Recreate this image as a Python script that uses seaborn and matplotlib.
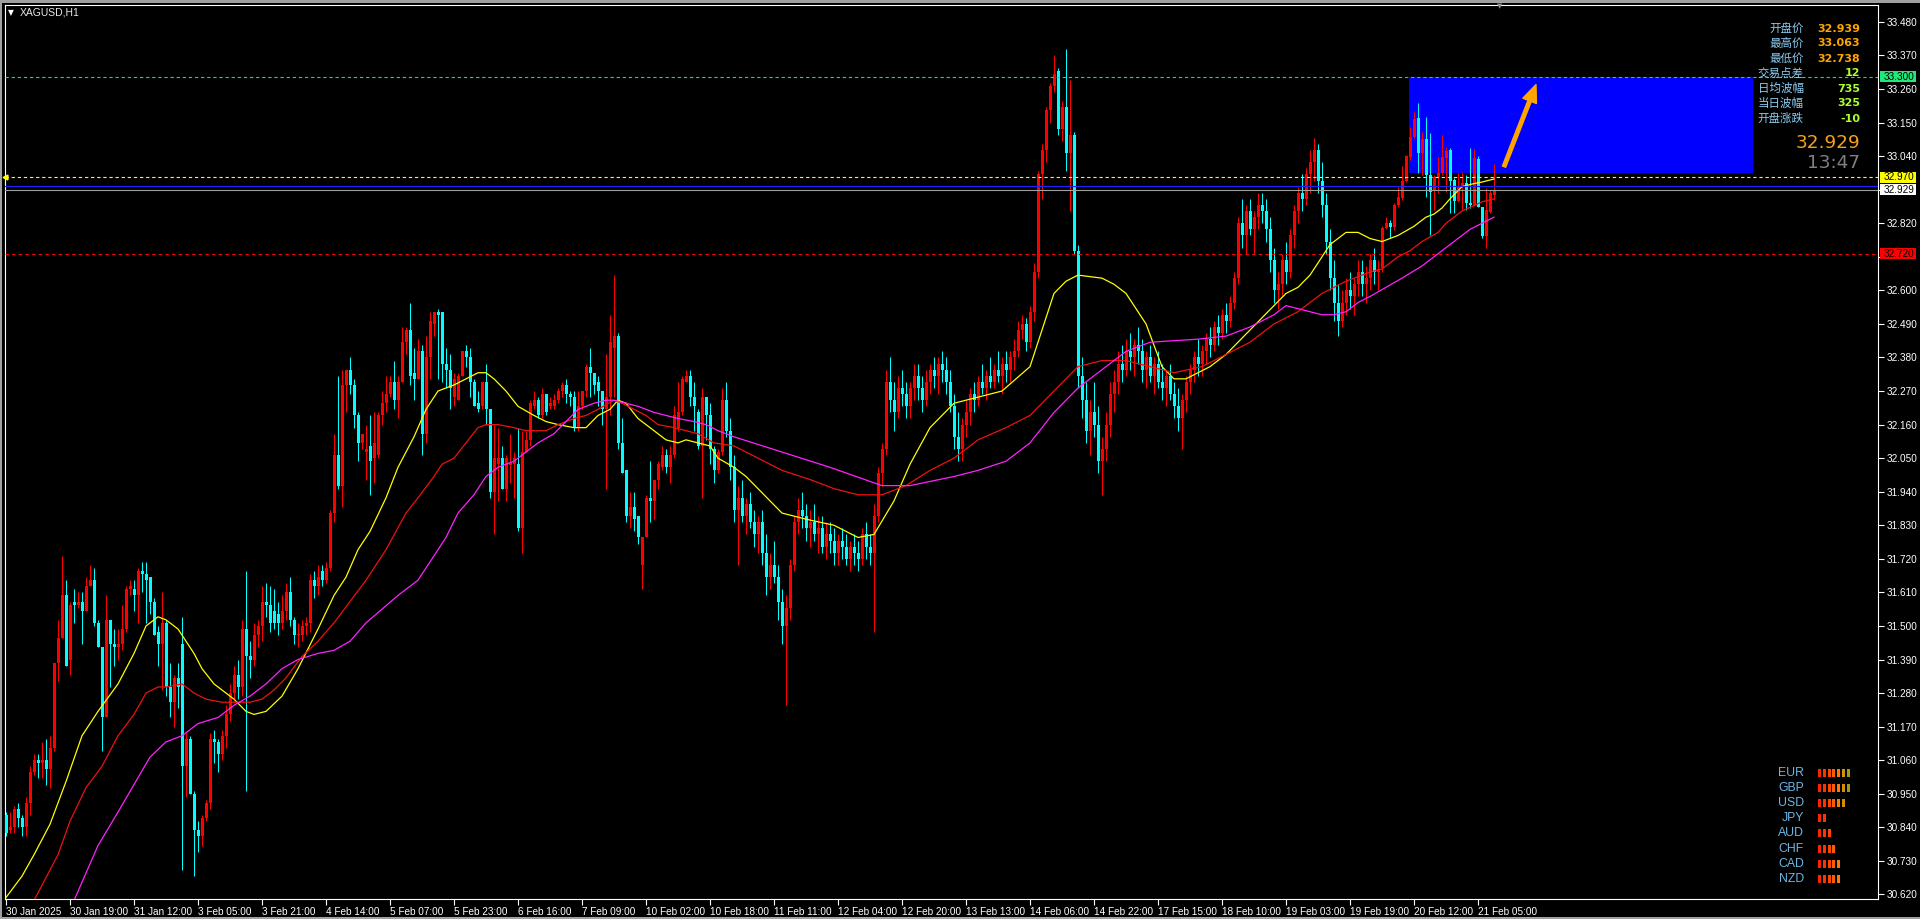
import numpy as np
import matplotlib
matplotlib.use("Agg")
import matplotlib.pyplot as plt
from matplotlib.patches import Rectangle, FancyArrowPatch
import seaborn as sns

# XAGUSD H1 candles, one entry per bar (30 Jan 2025 03:00 .. 21 Feb 2025 09:00)
opens = [
    30.88, 30.83, 30.84, 30.90, 30.87, 30.84, 30.92, 31.02, 31.06, 31.05,
    31.06, 31.03, 31.10, 31.38, 31.46, 31.60, 31.39, 31.58, 31.57, 31.58,
    31.55, 31.63, 31.65, 31.51, 31.43, 31.20, 31.52, 31.44, 31.43, 31.44,
    31.49, 31.62, 31.62, 31.60, 31.68, 31.67, 31.66, 31.58, 31.48, 31.44,
    31.51, 31.30, 31.25, 31.33, 31.44, 31.04, 31.13, 30.95, 30.83, 30.81,
    30.87, 30.92, 31.13, 31.12, 31.08, 31.14, 31.21, 31.28, 31.34, 31.30,
    31.49, 31.40, 31.39, 31.47, 31.50, 31.58, 31.57, 31.55, 31.54, 31.51,
    31.55, 31.61, 31.52, 31.47, 31.47, 31.50, 31.51, 31.65, 31.63, 31.68,
    31.65, 31.69, 31.87, 32.06, 31.96, 32.29, 32.34, 32.29, 32.19, 32.10,
    32.07, 32.09, 32.05, 32.06, 32.19, 32.23, 32.26, 32.30, 32.24, 32.30,
    32.43, 32.47, 32.33, 32.31, 32.40, 32.13, 32.38, 32.49, 32.53, 32.53,
    32.36, 32.34, 32.25, 32.24, 32.32, 32.40, 32.38, 32.30, 32.23, 32.22,
    32.30, 32.21, 31.94, 32.03, 32.05, 31.95, 32.027, 32.03, 32.03, 31.82,
    32.07, 32.11, 32.22, 32.24, 32.19, 32.26, 32.22, 32.22, 32.24, 32.27,
    32.29, 32.26, 32.25, 32.15, 32.22, 32.27, 32.35, 32.33, 32.30, 32.27,
    32.21, 32.25, 32.41, 32.45, 32.10, 32.01, 31.86, 31.89, 31.86, 31.70,
    31.79, 31.92, 31.91, 31.98, 32.02, 32.06, 32.02, 32.06, 32.15, 32.20,
    32.30, 32.32, 32.25, 32.20, 32.09, 32.25, 32.19, 32.08, 32.01, 32.07,
    32.24, 32.14, 32.02, 31.88, 31.92, 31.86, 31.90, 31.84, 31.80, 31.84,
    31.74, 31.66, 31.70, 31.66, 31.58, 31.50, 31.56, 31.70, 31.84, 31.88,
    31.86, 31.82, 31.84, 31.80, 31.82, 31.76, 31.80, 31.78, 31.74, 31.78,
    31.76, 31.72, 31.76, 31.74, 31.72, 31.80, 31.76, 31.74, 31.86, 32.00,
    32.08, 32.30, 32.24, 32.20, 32.28, 32.26, 32.22, 32.28, 32.32, 32.28,
    32.24, 32.30, 32.34, 32.32, 32.36, 32.34, 32.30, 32.22, 32.12, 32.08,
    32.16, 32.20, 32.26, 32.24, 32.30, 32.28, 32.32, 32.30, 32.34, 32.32,
    32.36, 32.34, 32.38, 32.40, 32.47, 32.49, 32.43, 32.53, 32.66, 32.98,
    33.06, 33.19, 33.27, 33.32, 33.13, 33.20, 33.05, 33.11, 32.73, 32.32,
    32.24, 32.14, 32.20, 32.16, 32.04, 32.08, 32.16, 32.26, 32.30, 32.36,
    32.34, 32.40, 32.38, 32.42, 32.40, 32.34, 32.38, 32.32, 32.36, 32.30,
    32.28, 32.32, 32.26, 32.22, 32.18, 32.24, 32.30, 32.34, 32.38, 32.36,
    32.40, 32.44, 32.42, 32.48, 32.46, 32.52, 32.50, 32.56, 32.64, 32.82,
    32.78, 32.86, 32.80, 32.84, 32.88, 32.86, 32.80, 32.70, 32.60, 32.62,
    32.70, 32.66, 32.78, 32.86, 32.92, 32.90, 32.98, 33.02, 33.06, 32.96,
    32.88, 32.76, 32.64, 32.56, 32.50, 32.56, 32.60, 32.58, 32.62, 32.66,
    32.62, 32.64, 32.70, 32.66, 32.672, 32.803, 32.822, 32.809, 32.880, 32.902,
    32.959, 33.038, 33.102, 33.164, 33.049, 33.096, 32.978, 32.927, 32.970, 32.984,
    33.033, 33.060, 32.962, 32.894, 32.938, 32.953, 32.887, 32.880, 33.031, 32.874,
    32.778, 32.858, 32.913,
]
highs = [
    30.89, 30.89, 30.91, 30.92, 30.88, 30.94, 31.04, 31.08, 31.08, 31.12,
    31.13, 31.14, 31.38, 31.52, 31.73, 31.65, 31.58, 31.62, 31.61, 31.61,
    31.66, 31.70, 31.69, 31.52, 31.43, 31.60, 31.52, 31.49, 31.49, 31.57,
    31.63, 31.65, 31.65, 31.69, 31.71, 31.71, 31.66, 31.59, 31.50, 31.61,
    31.52, 31.38, 31.34, 31.38, 31.53, 31.15, 31.14, 30.96, 30.86, 30.88,
    30.93, 31.15, 31.16, 31.13, 31.16, 31.24, 31.31, 31.37, 31.39, 31.52,
    31.68, 31.45, 31.51, 31.52, 31.63, 31.64, 31.63, 31.62, 31.58, 31.60,
    31.64, 31.66, 31.53, 31.51, 31.52, 31.53, 31.67, 31.68, 31.70, 31.70,
    31.71, 31.88, 32.13, 32.32, 32.34, 32.34, 32.38, 32.31, 32.20, 32.13,
    32.16, 32.19, 32.20, 32.20, 32.27, 32.32, 32.32, 32.37, 32.32, 32.48,
    32.48, 32.56, 32.41, 32.44, 32.42, 32.45, 32.53, 32.53, 32.54, 32.53,
    32.41, 32.39, 32.33, 32.33, 32.40, 32.42, 32.41, 32.31, 32.27, 32.30,
    32.36, 32.21, 32.16, 32.15, 32.09, 32.06, 32.13, 32.07, 32.15, 32.14,
    32.14, 32.24, 32.27, 32.25, 32.28, 32.26, 32.25, 32.26, 32.28, 32.30,
    32.31, 32.27, 32.27, 32.27, 32.27, 32.36, 32.41, 32.33, 32.32, 32.27,
    32.39, 32.52, 32.65, 32.46, 32.18, 32.01, 31.94, 31.94, 31.86, 31.79,
    31.93, 32.04, 31.98, 32.04, 32.09, 32.08, 32.09, 32.22, 32.30, 32.32,
    32.34, 32.34, 32.30, 32.21, 32.28, 32.25, 32.23, 32.09, 32.08, 32.28,
    32.30, 32.18, 32.06, 31.96, 31.98, 31.92, 31.94, 31.88, 31.86, 31.88,
    31.80, 31.74, 31.78, 31.70, 31.62, 31.60, 31.72, 31.86, 31.92, 31.94,
    31.90, 31.88, 31.90, 31.86, 31.86, 31.84, 31.84, 31.82, 31.80, 31.82,
    31.80, 31.78, 31.80, 31.78, 31.82, 31.84, 31.80, 31.90, 32.02, 32.10,
    32.34, 32.38, 32.30, 32.32, 32.34, 32.30, 32.30, 32.36, 32.36, 32.32,
    32.34, 32.36, 32.38, 32.38, 32.40, 32.38, 32.34, 32.26, 32.20, 32.18,
    32.24, 32.28, 32.30, 32.32, 32.36, 32.34, 32.38, 32.36, 32.40, 32.38,
    32.40, 32.40, 32.44, 32.50, 32.52, 32.51, 32.55, 32.69, 32.99, 33.08,
    33.20, 33.28, 33.37, 33.33, 33.22, 33.39, 33.29, 33.12, 32.75, 32.38,
    32.30, 32.24, 32.30, 32.22, 32.12, 32.20, 32.30, 32.34, 32.40, 32.42,
    32.44, 32.46, 32.44, 32.48, 32.44, 32.40, 32.42, 32.38, 32.40, 32.36,
    32.34, 32.36, 32.30, 32.28, 32.26, 32.32, 32.36, 32.40, 32.44, 32.42,
    32.46, 32.48, 32.50, 32.52, 32.54, 32.56, 32.58, 32.66, 32.84, 32.90,
    32.88, 32.90, 32.86, 32.92, 32.92, 32.90, 32.84, 32.74, 32.66, 32.72,
    32.76, 32.80, 32.88, 32.94, 32.98, 33.00, 33.06, 33.10, 33.08, 33.02,
    32.92, 32.80, 32.70, 32.62, 32.60, 32.64, 32.66, 32.64, 32.70, 32.70,
    32.68, 32.72, 32.74, 32.70, 32.81, 32.84, 32.83, 32.885, 32.94, 33.008,
    33.045, 33.136, 33.186, 33.213, 33.12, 33.169, 33.115, 32.978, 33.038, 33.109,
    33.071, 33.065, 32.967, 32.984, 32.989, 32.978, 33.065, 33.063, 33.040, 32.874,
    32.934, 32.929, 33.014,
]
lows = [
    30.81, 30.82, 30.82, 30.84, 30.81, 30.81, 30.88, 31.01, 31.00, 31.00,
    30.98, 30.97, 31.09, 31.32, 31.46, 31.37, 31.34, 31.51, 31.56, 31.44,
    31.55, 31.63, 31.50, 31.43, 31.09, 31.20, 31.30, 31.37, 31.39, 31.42,
    31.48, 31.60, 31.55, 31.51, 31.61, 31.51, 31.54, 31.47, 31.37, 31.29,
    31.27, 31.20, 31.17, 31.23, 30.70, 30.94, 30.95, 30.68, 30.76, 30.78,
    30.86, 30.90, 31.05, 31.02, 31.06, 31.10, 31.19, 31.26, 31.26, 31.27,
    30.96, 31.33, 31.37, 31.43, 31.45, 31.53, 31.48, 31.49, 31.47, 31.49,
    31.52, 31.50, 31.44, 31.43, 31.45, 31.47, 31.48, 31.59, 31.60, 31.63,
    31.64, 31.68, 31.84, 31.95, 31.89, 32.20, 32.26, 32.15, 32.04, 32.08,
    31.98, 31.93, 31.97, 32.05, 32.16, 32.20, 32.25, 32.21, 32.18, 32.30,
    32.39, 32.29, 32.24, 32.31, 32.06, 32.10, 32.31, 32.45, 32.31, 32.30,
    32.28, 32.21, 32.22, 32.24, 32.32, 32.35, 32.25, 32.22, 32.20, 32.21,
    32.16, 31.92, 31.80, 31.91, 31.95, 31.91, 31.97, 31.92, 31.81, 31.74,
    32.07, 32.09, 32.21, 32.18, 32.18, 32.19, 32.21, 32.21, 32.23, 32.25,
    32.23, 32.22, 32.14, 32.14, 32.21, 32.25, 32.25, 32.26, 32.22, 32.16,
    31.95, 32.19, 32.25, 32.08, 32.00, 31.84, 31.82, 31.81, 31.77, 31.62,
    31.79, 31.84, 31.85, 31.95, 32.01, 32.00, 31.97, 32.05, 32.14, 32.19,
    32.30, 32.22, 32.14, 32.08, 31.92, 32.11, 32.03, 31.97, 32.00, 32.06,
    32.12, 31.98, 31.84, 31.70, 31.84, 31.80, 31.82, 31.76, 31.74, 31.70,
    31.60, 31.62, 31.64, 31.52, 31.44, 31.24, 31.52, 31.68, 31.80, 31.82,
    31.78, 31.76, 31.78, 31.74, 31.74, 31.72, 31.74, 31.70, 31.70, 31.72,
    31.70, 31.68, 31.70, 31.68, 31.70, 31.72, 31.70, 31.48, 31.84, 31.96,
    32.06, 32.20, 32.14, 32.18, 32.22, 32.18, 32.18, 32.24, 32.24, 32.20,
    32.22, 32.26, 32.28, 32.26, 32.30, 32.26, 32.20, 32.08, 32.04, 32.04,
    32.12, 32.16, 32.20, 32.22, 32.26, 32.24, 32.28, 32.28, 32.30, 32.26,
    32.30, 32.30, 32.34, 32.38, 32.44, 32.40, 32.41, 32.50, 32.64, 32.90,
    33.02, 33.15, 33.25, 33.11, 33.09, 32.99, 32.86, 32.72, 32.28, 32.18,
    32.10, 32.06, 32.12, 32.00, 31.93, 32.04, 32.12, 32.20, 32.26, 32.30,
    32.32, 32.34, 32.32, 32.36, 32.30, 32.28, 32.30, 32.26, 32.28, 32.24,
    32.22, 32.24, 32.18, 32.14, 32.08, 32.20, 32.26, 32.30, 32.32, 32.32,
    32.36, 32.38, 32.40, 32.42, 32.44, 32.46, 32.48, 32.54, 32.62, 32.74,
    32.72, 32.78, 32.72, 32.80, 32.82, 32.76, 32.66, 32.56, 32.54, 32.58,
    32.62, 32.64, 32.74, 32.82, 32.86, 32.88, 32.92, 32.96, 32.92, 32.84,
    32.72, 32.60, 32.50, 32.45, 32.48, 32.52, 32.54, 32.52, 32.58, 32.58,
    32.56, 32.60, 32.62, 32.60, 32.66, 32.80, 32.77, 32.798, 32.874, 32.896,
    32.955, 33.027, 33.098, 32.984, 32.978, 32.907, 32.781, 32.863, 32.918, 32.978,
    32.923, 32.852, 32.852, 32.891, 32.863, 32.863, 32.869, 32.875, 32.874, 32.770,
    32.738, 32.852, 32.896,
]
closes = [
    30.82, 30.84, 30.90, 30.87, 30.84, 30.92, 31.02, 31.06, 31.05, 31.06,
    31.03, 31.10, 31.38, 31.46, 31.60, 31.37, 31.57, 31.57, 31.58, 31.55,
    31.63, 31.65, 31.51, 31.43, 31.20, 31.52, 31.44, 31.43, 31.44, 31.49,
    31.62, 31.63, 31.60, 31.68, 31.67, 31.65, 31.58, 31.47, 31.44, 31.51,
    31.30, 31.25, 31.33, 31.30, 31.04, 31.13, 30.95, 30.83, 30.81, 30.87,
    30.92, 31.13, 31.12, 31.08, 31.14, 31.21, 31.28, 31.34, 31.30, 31.49,
    31.40, 31.39, 31.47, 31.50, 31.58, 31.57, 31.51, 31.51, 31.51, 31.55,
    31.61, 31.52, 31.47, 31.47, 31.50, 31.51, 31.65, 31.63, 31.66, 31.65,
    31.69, 31.87, 32.06, 31.96, 32.29, 32.34, 32.29, 32.19, 32.10, 32.13,
    32.08, 32.04, 32.10, 32.19, 32.23, 32.26, 32.30, 32.24, 32.30, 32.43,
    32.47, 32.32, 32.31, 32.40, 32.13, 32.38, 32.50, 32.53, 32.52, 32.36,
    32.34, 32.28, 32.31, 32.32, 32.40, 32.38, 32.30, 32.22, 32.21, 32.30,
    32.21, 31.94, 32.05, 32.05, 31.95, 32.05, 32.033, 32.05, 31.82, 32.07,
    32.11, 32.23, 32.24, 32.19, 32.26, 32.20, 32.23, 32.24, 32.27, 32.29,
    32.26, 32.25, 32.15, 32.22, 32.27, 32.35, 32.33, 32.29, 32.27, 32.21,
    32.25, 32.43, 32.45, 32.10, 32.00, 31.86, 31.89, 31.85, 31.79, 31.79,
    31.92, 31.91, 31.98, 32.03, 32.06, 32.02, 32.06, 32.19, 32.20, 32.31,
    32.32, 32.25, 32.22, 32.09, 32.25, 32.19, 32.08, 32.01, 32.07, 32.24,
    32.14, 32.02, 31.88, 31.92, 31.86, 31.90, 31.84, 31.80, 31.84, 31.74,
    31.66, 31.70, 31.66, 31.58, 31.50, 31.56, 31.70, 31.84, 31.88, 31.86,
    31.82, 31.84, 31.80, 31.82, 31.76, 31.80, 31.78, 31.74, 31.78, 31.76,
    31.72, 31.76, 31.74, 31.72, 31.80, 31.76, 31.74, 31.86, 32.00, 32.08,
    32.30, 32.24, 32.20, 32.28, 32.26, 32.22, 32.28, 32.32, 32.28, 32.24,
    32.30, 32.34, 32.32, 32.36, 32.34, 32.30, 32.22, 32.12, 32.08, 32.16,
    32.20, 32.26, 32.24, 32.30, 32.28, 32.32, 32.30, 32.34, 32.32, 32.36,
    32.34, 32.38, 32.40, 32.47, 32.49, 32.43, 32.53, 32.66, 32.98, 33.06,
    33.19, 33.27, 33.31, 33.13, 33.20, 33.05, 33.11, 32.73, 32.32, 32.24,
    32.14, 32.20, 32.16, 32.04, 32.08, 32.16, 32.26, 32.30, 32.36, 32.34,
    32.40, 32.38, 32.42, 32.40, 32.34, 32.38, 32.32, 32.36, 32.30, 32.28,
    32.32, 32.26, 32.22, 32.18, 32.24, 32.30, 32.34, 32.38, 32.36, 32.40,
    32.44, 32.42, 32.48, 32.46, 32.52, 32.50, 32.56, 32.64, 32.82, 32.78,
    32.86, 32.80, 32.84, 32.88, 32.86, 32.80, 32.70, 32.60, 32.62, 32.70,
    32.66, 32.78, 32.86, 32.92, 32.90, 32.98, 33.02, 33.06, 32.96, 32.88,
    32.76, 32.64, 32.56, 32.50, 32.56, 32.60, 32.58, 32.62, 32.66, 32.62,
    32.64, 32.70, 32.66, 32.67, 32.803, 32.822, 32.809, 32.880, 32.907, 32.959,
    33.040, 33.102, 33.161, 33.049, 33.096, 32.978, 32.923, 32.973, 32.984, 33.038,
    33.058, 32.959, 32.894, 32.938, 32.953, 32.887, 32.880, 33.035, 32.874, 32.778,
    32.863, 32.920, 32.929,
]

# moving averages (bar index, price)
fast_ma_bars = [0, 4, 7, 11, 15, 19, 23, 28, 32, 35, 38, 40, 43, 47, 49, 52, 57, 60, 62, 65,
                69, 73, 78, 82, 85, 88, 91, 95, 98, 102, 105, 108, 112, 115, 118, 120, 122, 125, 128, 132,
                135, 138, 142, 145, 148, 151, 153, 155, 158, 162, 165, 168, 170, 173, 176, 178, 182, 185, 188, 194,
                200, 207, 213, 217, 222, 226, 231, 237, 243, 249, 256, 259, 262, 265, 268, 274, 277, 280, 285, 289,
                292, 295, 301, 305, 311, 317, 320, 323, 326, 331, 335, 338, 341, 344, 348, 352, 355, 357, 359, 361,
                364, 367, 369, 372]
fast_ma = [30.61, 30.68, 30.75, 30.85, 30.99, 31.14, 31.22, 31.31, 31.41, 31.50, 31.53, 31.52, 31.49, 31.41, 31.36, 31.31, 31.26, 31.22, 31.21, 31.22,
           31.27, 31.36, 31.49, 31.60, 31.66, 31.75, 31.81, 31.92, 32.02, 32.12, 32.21, 32.27, 32.29, 32.31, 32.33, 32.33, 32.31, 32.27, 32.22, 32.19,
           32.17, 32.16, 32.15, 32.15, 32.19, 32.21, 32.24, 32.23, 32.18, 32.14, 32.11, 32.10, 32.11, 32.10, 32.09, 32.05, 32.02, 31.99, 31.95, 31.87,
           31.85, 31.83, 31.79, 31.80, 31.91, 32.03, 32.15, 32.23, 32.25, 32.27, 32.35, 32.47, 32.59, 32.63, 32.65, 32.64, 32.62, 32.59, 32.49, 32.35,
           32.31, 32.31, 32.35, 32.39, 32.47, 32.55, 32.59, 32.61, 32.65, 32.75, 32.79, 32.79, 32.77, 32.76, 32.78, 32.81, 32.84, 32.85, 32.87, 32.90,
           32.94, 32.95, 32.955, 32.965]
mid_ma_bars = [7, 13, 16, 20, 24, 28, 32, 35, 38, 40, 44, 47, 50, 54, 57, 61, 64, 67, 70, 74,
               78, 82, 90, 95, 100, 103, 107, 109, 112, 115, 118, 120, 123, 127, 130, 135, 138, 142, 145, 148,
               152, 154, 157, 160, 163, 167, 170, 173, 177, 182, 188, 194, 201, 207, 213, 219, 225, 231, 237, 243,
               250, 256, 262, 268, 274, 280, 286, 292, 299, 305, 311, 317, 323, 329, 335, 341, 344, 348, 351, 354,
               358, 360, 364, 369, 372]
mid_ma = [30.60, 30.75, 30.86, 30.97, 31.04, 31.14, 31.21, 31.28, 31.30, 31.30, 31.31, 31.28, 31.26, 31.25, 31.25, 31.25, 31.26, 31.29, 31.33, 31.40,
          31.45, 31.51, 31.65, 31.75, 31.87, 31.92, 31.99, 32.03, 32.05, 32.10, 32.15, 32.16, 32.16, 32.15, 32.14, 32.14, 32.16, 32.18, 32.19, 32.21,
          32.24, 32.23, 32.21, 32.19, 32.16, 32.15, 32.14, 32.13, 32.10, 32.09, 32.05, 32.01, 31.98, 31.95, 31.93, 31.93, 31.96, 32.01, 32.05, 32.11,
          32.15, 32.19, 32.27, 32.35, 32.37, 32.37, 32.35, 32.33, 32.35, 32.39, 32.43, 32.49, 32.53, 32.59, 32.63, 32.66, 32.67, 32.71, 32.73, 32.76,
          32.79, 32.82, 32.86, 32.89, 32.90]
slow_ma_bars = [17, 23, 28, 32, 36, 40, 44, 48, 53, 57, 61, 65, 69, 73, 78, 82, 86, 90, 98, 103,
                107, 110, 113, 117, 120, 123, 127, 130, 133, 137, 140, 143, 147, 150, 152, 155, 158, 162, 165, 168,
                172, 175, 178, 182, 194, 206, 219, 226, 237, 243, 250, 256, 262, 268, 274, 280, 286, 298, 305, 311,
                317, 320, 323, 329, 332, 335, 338, 341, 349, 354, 360, 366, 372]
slow_ma = [30.60, 30.78, 30.89, 30.98, 31.07, 31.12, 31.14, 31.18, 31.20, 31.24, 31.27, 31.31, 31.36, 31.39, 31.41, 31.42, 31.45, 31.51, 31.60, 31.65,
           31.73, 31.79, 31.87, 31.93, 31.99, 32.02, 32.04, 32.07, 32.10, 32.13, 32.17, 32.21, 32.23, 32.24, 32.24, 32.23, 32.22, 32.20, 32.19, 32.18,
           32.17, 32.16, 32.14, 32.12, 32.07, 32.02, 31.96, 31.96, 31.99, 32.01, 32.04, 32.10, 32.20, 32.28, 32.34, 32.40, 32.43, 32.44, 32.45, 32.48,
           32.52, 32.55, 32.54, 32.52, 32.52, 32.53, 32.56, 32.58, 32.64, 32.68, 32.74, 32.80, 32.84]

time_labels = ["30 Jan 2025", "30 Jan 19:00", "31 Jan 12:00", "3 Feb 05:00", "3 Feb 21:00", "4 Feb 14:00",
               "5 Feb 07:00", "5 Feb 23:00", "6 Feb 16:00", "7 Feb 09:00", "10 Feb 02:00", "10 Feb 18:00",
               "11 Feb 11:00", "12 Feb 04:00", "12 Feb 20:00", "13 Feb 13:00", "14 Feb 06:00", "14 Feb 22:00",
               "17 Feb 15:00", "18 Feb 10:00", "19 Feb 03:00", "19 Feb 19:00", "20 Feb 12:00", "21 Feb 05:00"]
bars_per_label = 16
price_ticks = [30.62, 30.73, 30.84, 30.95, 31.06, 31.17, 31.28, 31.39, 31.50, 31.61, 31.72, 31.83, 31.94,
               32.05, 32.16, 32.27, 32.38, 32.49, 32.60, 32.71, 32.82, 32.93, 33.04, 33.15, 33.26, 33.37, 33.48]

target_level = 33.300
open_level = 32.970
ask_price = 32.941
bid_price = 32.929
stop_level = 32.720
zone_start, zone_end = 350.75, 436.75
zone_low, zone_high = 32.985, 33.300
arrow_from = (374.25, 32.997)
arrow_to = (382.75, 33.283)

info_names = ["开盘价", "最高价", "最低价", "交易点差", "日均波幅", "当日波幅", "开盘涨跌"]
info_values = ["32.939", "33.063", "32.738", "12", "735", "325", "-10"]
clock_text = "13:47"
currencies = ["EUR", "GBP", "USD", "JPY", "AUD", "CHF", "CAD", "NZD"]
strength = [7, 7, 6, 2, 3, 4, 5, 5]
strength_colors = ["#FF2200", "#FF3300", "#FF4400", "#FF5C00", "#FF7A00", "#D09000", "#A0A000"]

W, H = 1920, 919
plt.rcParams["font.family"] = ["Liberation Sans", "DejaVu Sans"]
fig = plt.figure(figsize=(W / 100, H / 100), dpi=100, facecolor="black")
left, right, top, bottom = 4.5, 1878, 4.5, 899
ax = fig.add_axes([left / W, 1 - bottom / H, (right - left) / W, (bottom - top) / H])
ax.set_facecolor("black")
ax.set_xlim(-0.375, 468)
ax.set_ylim(30.605, 33.537)

# candles
idx = np.arange(len(closes))
o, h, l, c = (np.array(v) for v in (opens, highs, lows, closes))
cols = np.where(c >= o, "#FF0000", "#00FFFF")
ax.vlines(idx, l, h, colors=cols, lw=0.75, zorder=3)
ax.bar(idx, np.maximum(np.abs(c - o), 0.0035), bottom=np.minimum(o, c), width=0.75,
       color=cols, linewidth=0, zorder=4)

# moving averages
sns.lineplot(x=fast_ma_bars, y=fast_ma, ax=ax, color="#FFFF00", linewidth=0.9, zorder=5)
sns.lineplot(x=mid_ma_bars, y=mid_ma, ax=ax, color="#EE1111", linewidth=0.9, zorder=5)
sns.lineplot(x=slow_ma_bars, y=slow_ma, ax=ax, color="#FF22FF", linewidth=0.9, zorder=5)

# target zone and arrow
ax.add_patch(Rectangle((zone_start, zone_low), zone_end - zone_start, zone_high - zone_low,
                       fc="#0000FF", ec="none", zorder=1))
ax.add_patch(FancyArrowPatch(arrow_from, arrow_to, mutation_scale=14, color="#FFA500", zorder=6,
                             arrowstyle="simple,head_length=0.9,head_width=0.75,tail_width=0.18"))

# price lines
ax.axhline(target_level, color="#10E070", lw=0.8, ls=(0, (3, 2.5)), zorder=6)
ax.axhline(open_level, color="#FFFF00", lw=0.8, ls=(0, (3, 2.5)), zorder=6)
ax.axhline(ask_price, color="#1E1EFF", lw=0.8, zorder=6)
ax.axhline(bid_price, color="#A0A0A0", lw=0.8, zorder=6)
ax.axhline(stop_level, color="#FF0000", lw=0.8, ls=(0, (3, 3)), zorder=6)
ax.plot([-0.375], [open_level], marker="<", ms=3.5, color="#FFFF00", clip_on=False, zorder=7)

# axes styling; ticks hidden under the price tags get no label
tagged = [round(v, 2) for v in (open_level, bid_price, stop_level)]
for s in ax.spines.values():
    s.set_color("white")
    s.set_linewidth(0.8)
ax.yaxis.tick_right()
ax.set_yticks(price_ticks)
ax.set_yticklabels(["" if any(abs(v - t) < 0.02 for t in tagged) else f"{v:.3f}" for v in price_ticks])
ax.set_xticks(np.arange(len(time_labels)) * bars_per_label)
ax.set_xticklabels(time_labels, ha="left")
ax.tick_params(axis="y", colors="white", labelsize=7.2, length=4, width=0.8, pad=2)
ax.tick_params(axis="x", colors="white", labelsize=7.2, length=4, width=0.8, pad=2)
ax.set_xlabel("")
ax.set_ylabel("")

fig.canvas.draw()


def price_tag(value, face, z):
    y = ax.transData.transform((0, value))[1]
    fig.add_artist(Rectangle((1880, y - 5.5), 36, 11, transform=None, fc=face, ec="none", zorder=z))
    fig.text(1883.5 / W, y / H, f"{value:.3f}", color="black", fontsize=7.2, ha="left",
             va="center", zorder=z + 1)


price_tag(target_level, "#22E878", 20)
price_tag(open_level, "#FFFF00", 20)
price_tag(stop_level, "#FF0000", 20)
fig.add_artist(Rectangle((1880, ax.transData.transform((0, ask_price))[1] - 2), 36, 4,
                         transform=None, fc="#1E1EFF", ec="none", zorder=20))
price_tag(bid_price, "#FFFFFF", 22)

# top-left caption
fig.text(8 / W, 1 - 12.5 / H, "▼", color="white", fontsize=5.5, family="DejaVu Sans", va="center")
fig.text(20 / W, 1 - 12.5 / H, "XAGUSD,H1", color="#E8E8E8", fontsize=7.5, va="center")
fig.text(1500 / W, 1 - 6 / H, "▼", color="#909090", fontsize=5, family="DejaVu Sans", ha="center", va="center")

# info panel
for k, (name, val) in enumerate(zip(info_names, info_values)):
    yy = 1 - (28.5 + 15 * k) / H
    fig.text(1803.5 / W, yy, name, color="#8CCBF0", fontsize=8.3, ha="right", va="center",
             family=["Noto Sans CJK SC", "DejaVu Sans"])
    fig.text(1860 / W, yy, val, color="#FFA500" if k < 3 else "#ADFF2F", fontsize=8,
             fontweight="bold", ha="right", va="center", family="DejaVu Sans")
fig.text(1860 / W, 1 - 143.5 / H, f"{bid_price:.3f}", color="#F5A020", fontsize=13.3,
         ha="right", va="center", family="DejaVu Sans")
fig.text(1860 / W, 1 - 163.5 / H, clock_text, color="#808080", fontsize=13.3,
         ha="right", va="center", family="DejaVu Sans")

# currency strength meter
for k, (cur, n) in enumerate(zip(currencies, strength)):
    yc = 773 + 15.1 * k
    fig.text(1804 / W, 1 - yc / H, cur, color="#6DB6E6", fontsize=8.8, ha="right", va="center")
    for j in range(n):
        fig.add_artist(Rectangle((1818 + 4.8 * j, H - yc - 4), 2.9, 8, transform=None,
                                 fc=strength_colors[j], ec="none"))

# window frame
fig.add_artist(Rectangle((0, H - 2.5), W, 2.5, transform=None, fc="#A0A0A0", ec="none"))
fig.add_artist(Rectangle((0, 0), 2, H, transform=None, fc="#A0A0A0", ec="none"))
fig.add_artist(Rectangle((0, 0), W, 2, transform=None, fc="#A0A0A0", ec="none"))

fig.savefig("out.png", dpi=100, facecolor="black")
